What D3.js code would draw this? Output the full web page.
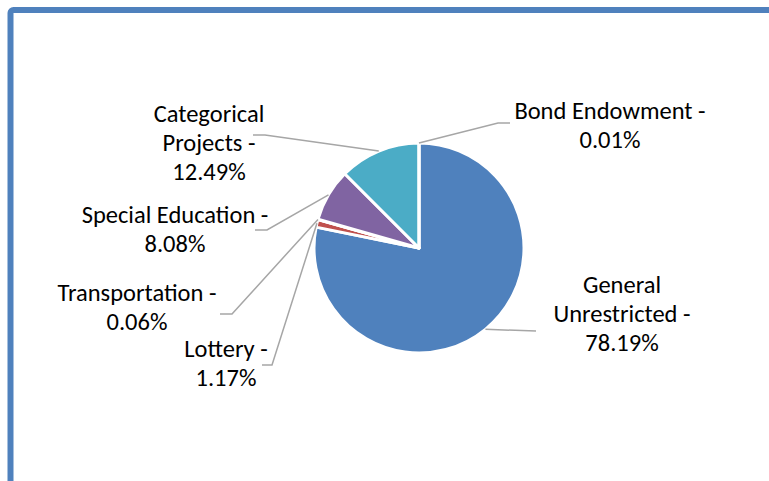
<!DOCTYPE html>
<html>
<head>
<meta charset="utf-8">
<script src="https://cdn.jsdelivr.net/npm/d3@7"></script>
<style>
  body { margin: 0; background: #fff; }
  svg { display: block; }
  .lbl { font-family: Carlito, Lato, "Open Sans", sans-serif; font-size: 24.5px; fill: #000; }
</style>
</head>
<body>
<svg id="chart" width="769" height="481"></svg>
<script>
var categories = ["General Unrestricted", "Lottery", "Transportation", "Special Education", "Categorical Projects", "Bond Endowment"];
var shares = [78.19, 1.17, 0.06, 8.08, 12.49, 0.01];
var colors = ["#4F81BD", "#C0504D", "#9BBB59", "#8064A2", "#4BACC6", "#F79646"];

// label placement (centre x, first baseline, words on first line, leader start + elbow)
var labelLayout = [
  {x: 622, y: 293, firstLine: 1, from: [536, 331], elbow: [536, 331]},
  {x: 226, y: 357, firstLine: 9, from: [262, 365], elbow: [272, 365]},
  {x: 137, y: 301, firstLine: 9, from: [220, 314], elbow: [232, 314]},
  {x: 175, y: 223, firstLine: 9, from: [255, 230], elbow: [267, 230]},
  {x: 209, y: 122, firstLine: 1, from: [253, 135], elbow: [265, 135]},
  {x: 610, y: 119, firstLine: 9, from: [510, 123], elbow: [498, 123]}
];

var lineHeight = 29;
var radius = 105,
    cx = 419, cy = 248;

var svg = d3.select("#chart");

// outer frame (only top/left visible)
svg.append("rect")
    .attr("x", 10.5)
    .attr("y", 10)
    .attr("width", 820)
    .attr("height", 520)
    .attr("rx", 3)
    .attr("fill", "#fff")
    .attr("stroke", "#4F81BD")
    .attr("stroke-width", 6);

var data = categories.map(function(c, i) {
  return {name: c, share: shares[i], color: colors[i], layout: labelLayout[i]};
});

var pie = d3.pie()
    .sort(null)
    .value(function(d) { return d.share; });

var arc = d3.arc().innerRadius(0).outerRadius(radius);
var edge = d3.arc().innerRadius(radius).outerRadius(radius);

var g = svg.append("g")
    .attr("transform", "translate(" + cx + "," + cy + ")");

var arcs = pie(data);

g.selectAll("path.slice")
    .data(arcs)
  .enter().append("path")
    .attr("class", "slice")
    .attr("d", arc)
    .attr("fill", function(d) { return d.data.color; })
    .attr("stroke", "#fff")
    .attr("stroke-width", 3)
    .attr("stroke-linejoin", "round");

// leader lines
svg.selectAll("polyline.leader")
    .data(arcs)
  .enter().append("polyline")
    .attr("class", "leader")
    .attr("points", function(d) {
      var p = edge.centroid(d);
      var L = d.data.layout;
      return [L.from, L.elbow, [p[0] + cx, p[1] + cy]].map(function(q) { return q.join(","); }).join(" ");
    })
    .attr("fill", "none")
    .attr("stroke", "#A6A6A6")
    .attr("stroke-width", 1.5);

// labels
var fmt = d3.format(".2f");
var label = svg.selectAll("text.lbl")
    .data(data)
  .enter().append("text")
    .attr("class", "lbl")
    .attr("text-anchor", "middle");

label.each(function(d) {
  var words = (d.name + " -").split(" ");
  var n = Math.min(d.layout.firstLine, words.length);
  var lines = [words.slice(0, n).join(" ")];
  if (n < words.length) lines.push(words.slice(n).join(" "));
  lines.push(fmt(d.share) + "%");
  var t = d3.select(this);
  lines.forEach(function(s, i) {
    t.append("tspan")
        .attr("x", d.layout.x)
        .attr("y", d.layout.y + i * lineHeight)
        .text(s);
  });
});
</script>
</body>
</html>
